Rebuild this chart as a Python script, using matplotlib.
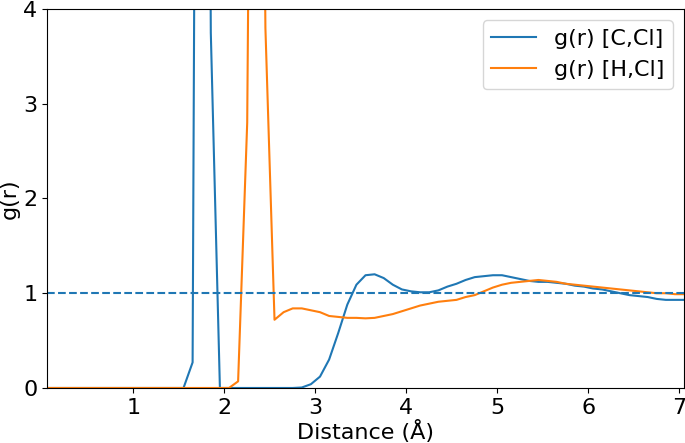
import numpy as np
import matplotlib
matplotlib.use("Agg")
import matplotlib.pyplot as plt

# radial grid, 0.1 Å bins (bin centres)
r = np.round(np.arange(0.05, 7.06, 0.1), 2)

g_c_cl = [0.0] * 16 + [
    0.27, 22.0, 3.75, 0.0,
    0.0, 0.0, 0.0, 0.0, 0.0, 0.0, 0.0, 0.0,
    0.005, 0.04, 0.12, 0.30, 0.58, 0.88, 1.09, 1.19, 1.20, 1.16,
    1.09, 1.04, 1.02, 1.01, 1.01, 1.03, 1.07, 1.10, 1.14, 1.17,
    1.18, 1.19, 1.19, 1.17, 1.15, 1.13, 1.12, 1.12, 1.11, 1.10,
    1.08, 1.07, 1.05, 1.04, 1.02, 1.00, 0.98, 0.97, 0.96, 0.94,
    0.93, 0.93, 0.93,
]

g_h_cl = [0.0] * 20 + [
    0.0, 0.07, 2.8, 15.0, 3.8, 0.72, 0.80, 0.84,
    0.84, 0.82, 0.80, 0.76, 0.75, 0.74, 0.74, 0.735, 0.74, 0.76,
    0.78, 0.81, 0.84, 0.87, 0.89, 0.91, 0.92, 0.93, 0.96, 0.98,
    1.02, 1.06, 1.09, 1.11, 1.12, 1.13, 1.14, 1.13, 1.12, 1.10,
    1.09, 1.08, 1.07, 1.06, 1.05, 1.04, 1.03, 1.02, 1.01, 1.00,
    1.00, 0.99, 0.99,
]

labels = ["g(r) [C,Cl]", "g(r) [H,Cl]"]

plt.rcParams['font.size'] = 16

fig = plt.figure(figsize=(6.85, 4.43), dpi=100)
ax = fig.add_axes([0.0686, 0.1242, 0.93, 0.8555])

ax.plot(r, g_c_cl, label=labels[0])
ax.plot(r, g_h_cl, label=labels[1])
ax.axhline(1.0, linestyle='--')

ax.set_xlim(0.05, 7.05)
ax.set_ylim(0, 4)
ax.set_xticks([1, 2, 3, 4, 5, 6, 7])
ax.set_yticks([0, 1, 2, 3, 4])
ax.set_xlabel("Distance (Å)", labelpad=2)
ax.set_ylabel("g(r)", labelpad=2)
ax.legend(loc='upper right')

fig.savefig("out.png", dpi=100)
